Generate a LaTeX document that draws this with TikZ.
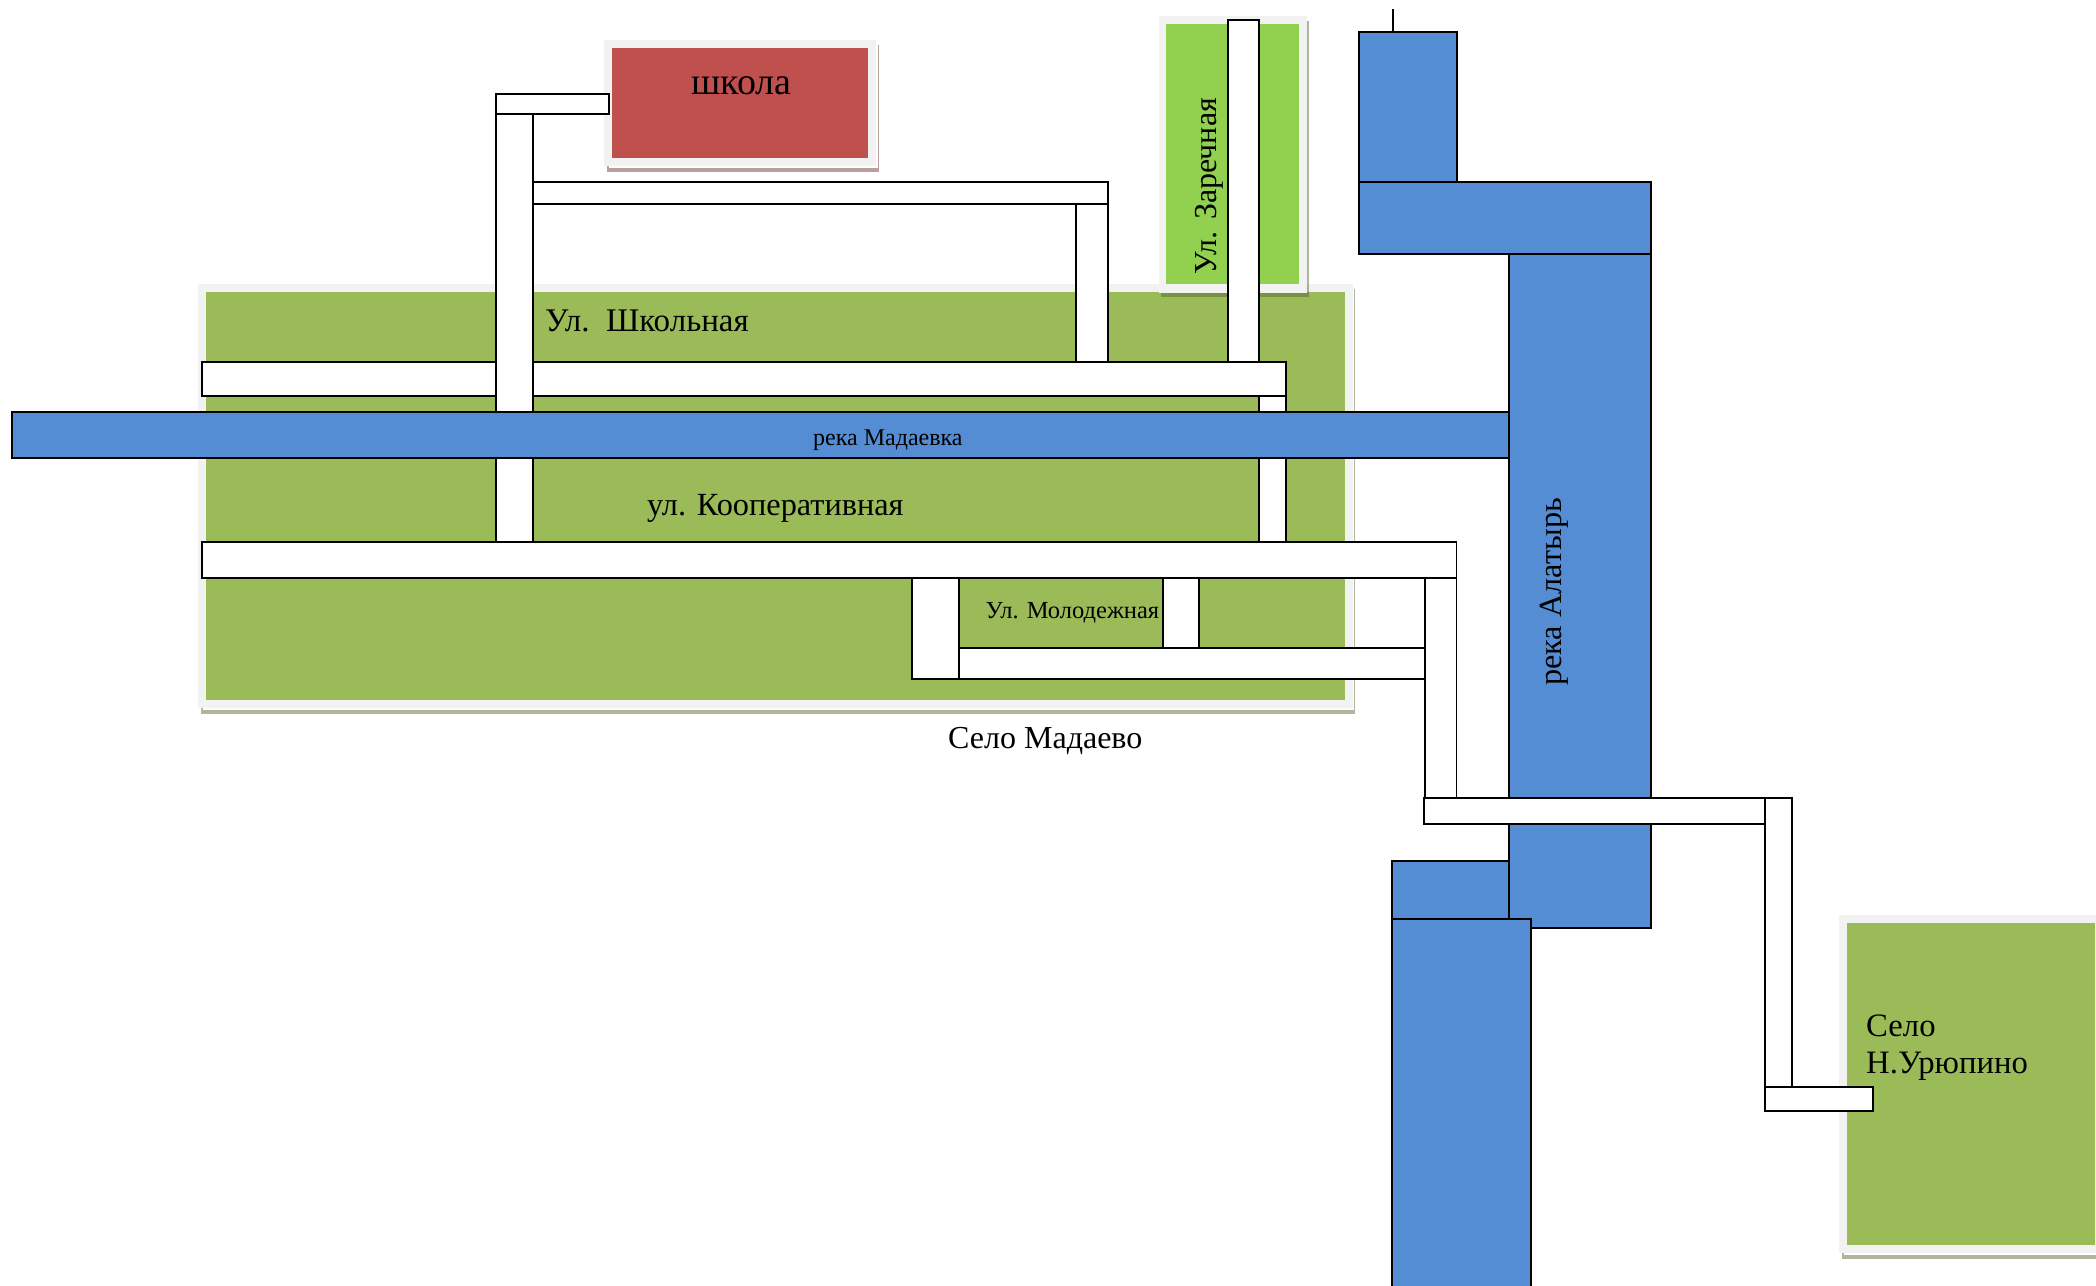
\documentclass[tikz,border=0pt]{standalone}
\usepackage{fontspec}
\setmainfont{Liberation Serif}
\definecolor{grn}{HTML}{9BBB59}
\definecolor{lime}{HTML}{92D050}
\definecolor{riv}{HTML}{548DD4}
\definecolor{redb}{HTML}{C0504D}
\definecolor{frame}{HTML}{F2F2F2}
\tikzset{
  road/.style={draw=black,fill=white,line width=1.9pt,line join=miter},
  river/.style={draw=black,fill=riv,line width=1.9pt,line join=miter},
  frm/.style={fill=frame},
  gshadow/.style={fill={rgb,255:red,79;green,95;blue,45},fill opacity=.45},
  rshadow/.style={fill={rgb,255:red,98;green,40;blue,38},fill opacity=.45},
  lbl/.style={anchor=base west,inner sep=0pt,text=black,font=\fontsize{#1}{#1}\selectfont},
}
\begin{document}
\begin{tikzpicture}[x=1pt,y=-1pt]
\useasboundingbox (0,0) rectangle (2096,1285);
\fill[white] (0,0) rectangle (2096,1285);
% big green area
\fill[gshadow] (201,289) rectangle (1355,714);
\fill[white] (203,289) rectangle (1353.5,709.5);
\fill[frm] (198,284) rectangle (1352.5,708);
\fill[grn] (206,292) rectangle (1344.5,700);
% Zarechnaya
\fill[gshadow] (1161,21) rectangle (1309,297);
\fill[frm] (1158.6,16) rectangle (1306.7,292.7);
\fill[lime] (1166,24) rectangle (1298.6,284);
% school
\fill[rshadow] (607,45) rectangle (879,172);
\fill[white] (609,45) rectangle (877.5,167.5);
\fill[frm] (604,40) rectangle (876.4,166);
\fill[redb] (612,48) rectangle (868,158);
% right village
\fill[gshadow] (1841.5,920) rectangle (2096,1258.7);
\fill[white] (1844,920) rectangle (2096,1254.5);
\fill[frm] (1839,915) rectangle (2096,1253);
\fill[grn] (1847,923) rectangle (2094.5,1245);
% roads
\draw[road] (532.6,182) rectangle (1108.4,204);
\draw[road] (1076,204) rectangle (1108.4,362);
\draw[road] (1228,19.7) rectangle (1258.8,362);
\draw[road] (1258.8,396) rectangle (1286.4,542);
\draw[road] (202,361.7) rectangle (1286.4,396);
\draw[road] (496,114) rectangle (532.6,542);
\draw[road] (496,94) rectangle (608.6,114);
% rivers
\draw[river] (11.7,412) rectangle (1508.7,458.3);
\draw[line width=1.5pt] (1392.8,9.3) -- (1392.8,32);
\draw[river] (1358.7,32) rectangle (1457,182);
\draw[river] (1508.7,254) rectangle (1651,928.3);
\draw[river] (1358.7,182) rectangle (1651,254);
\draw[river] (1392.3,861) rectangle (1508.7,918.7);
\draw[river] (1392.3,918.7) rectangle (1530.8,1295);
% lower roads
\draw[road] (1162.7,578) rectangle (1198.7,648);
\draw[road] (958.7,648) rectangle (1425,679.3);
\draw[road] (912,578) rectangle (958.7,679.3);
\draw[road] (202,542) rectangle (1456.5,578);
\draw[road] (1424.9,578) rectangle (1456.5,824.3);
\draw[road] (1424,798) rectangle (1764.8,824.3);
\draw[road] (1764.8,798) rectangle (1792.4,1086.7);
\draw[road] (1764.8,1086.7) rectangle (1873.3,1111.3);
% labels
\node[lbl=38] (tschool) at (691,94.3) {школа};
\node[lbl=33] (tshk) at (545,331) {Ул.\ \ Школьная};
\node[lbl=24] (tmad) at (813,445) {река Мадаевка};
\node[lbl=32.3] (tkoop) at (647,515) {ул. Кооперативная};
\node[lbl=24.5] (tmol) at (985.5,618) {Ул. Молодежная};
\node[lbl=32] (tselo) at (948,748.5) {Село Мадаево};
\node[lbl=32.7] (tur1) at (1866,1036.5) {Село};
\node[lbl=32.7] (tur2) at (1866,1073.5) {Н.Урюпино};
\node[lbl=32,rotate=90] (tzar) at (1216.7,275) {Ул.\hspace{0.375em}Заречная};
\node[lbl=32.3,rotate=90] (talat) at (1561,686) {река Алатырь};
\end{tikzpicture}
\end{document}
